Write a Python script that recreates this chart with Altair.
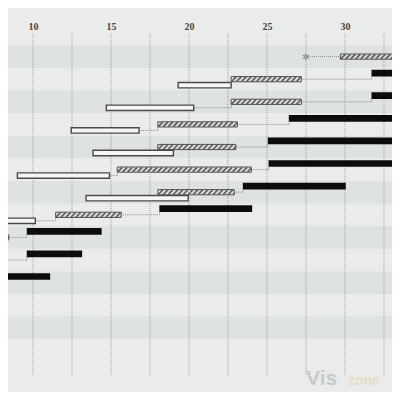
import altair as alt
import pandas as pd

# ---------------- data ----------------
rows = list(range(11))
white_start = [None, 19.3, 14.7, 12.45, 13.85, 9.0, 13.4, 6.5, None, None, None]
white_end = [None, 22.7, 20.3, 16.8, 19.0, 14.9, 19.95, 10.15, None, None, None]
hatch_start = [29.7, 22.7, 22.7, 18.0, 18.0, 15.4, 18.0, 11.45, 6.0, 6.0, 5.5]
hatch_end = [35.0, 27.2, 27.2, 23.1, 23.0, 24.0, 22.9, 15.65, 8.45, 8.35, 7.6]
black_start = [None, 31.7, 31.7, 26.4, 25.05, 25.1, 23.45, 18.1, 9.6, 9.6, 8.2]
black_end = [None, 35.0, 35.0, 35.0, 35.0, 33.15, 30.05, 24.05, 14.4, 13.15, 11.1]
milestone_rows = [0]
milestone_x = [27.5]
band_rows = [0, 2, 4, 6, 8, 10, 12]
grid_values = [7.5, 10, 12.5, 15, 17.5, 20, 22.5, 25, 27.5, 30, 32.5]
label_values = [10, 15, 20, 25, 30]
watermark = ["Vis", "zone"]

# ---------------- tables built from the arrays ----------------
recs = []
for i, r in enumerate(rows):
    for phase, s, e in (("white", white_start[i], white_end[i]),
                        ("hatched", hatch_start[i], hatch_end[i]),
                        ("black", black_start[i], black_end[i])):
        if s is not None:
            recs.append({"row": r, "phase": phase, "start": s, "end": e})
bars = pd.DataFrame(recs)

conn = []
for i, r in enumerate(rows):
    if white_end[i] is not None and hatch_start[i] >= white_end[i]:
        conn.append({"row": r, "src": "white", "dst": "hatched",
                     "x0": white_end[i], "x1": hatch_start[i]})
    if black_start[i] is not None:
        conn.append({"row": r, "src": "hatched", "dst": "black",
                     "x0": hatch_end[i], "x1": black_start[i]})
for r, m in zip(milestone_rows, milestone_x):
    conn.append({"row": r, "src": "hatched", "dst": "hatched",
                 "x0": m, "x1": hatch_start[rows.index(r)]})
conns = pd.DataFrame(conn)

miles = pd.DataFrame({"row": milestone_rows, "x": milestone_x, "t": ["✲"] * len(milestone_x)})
bands = pd.DataFrame({"row": band_rows})
grid = pd.DataFrame({"v": grid_values})

# ---------------- scales / styling ----------------
W, H = 384, 342
ROW_PX = 22.6
xscale = alt.Scale(domain=[8.397, 33.013], nice=False, zero=False)
yscale = alt.Scale(domain=[0, H / ROW_PX], nice=False, zero=False, reverse=True)
xaxis = alt.Axis(orient="top", values=label_values, grid=False, ticks=False, domain=False,
                 labelFont="Liberation Serif", labelFontSize=10, labelFontWeight="bold",
                 labelColor="#444444", labelPadding=3, title=None)


def X(f):
    return alt.X(f, type="quantitative", scale=xscale, axis=xaxis, title=None)


def Y(f):
    return alt.Y(f, type="quantitative", scale=yscale, axis=None, title=None)


def off(f):
    return f"(datum.{f} == 'black' ? -0.27 : datum.{f} == 'white' ? 0.265 : 0)"


def half(f):
    return f"(datum.{f} == 'black' ? 0.148 : datum.{f} == 'white' ? 0.12 : 0.115)"


DX = 0.29
PERIOD = 0.32
INNER = 0.1

band_layer = alt.Chart(bands).mark_rect(color="#dee3e2").transform_calculate(
    y="datum.row + 0.5", y2="datum.row + 1.5"
).encode(x=alt.value(0), x2=alt.value(W), y=Y("y"), y2=alt.Y2("y2"))

grid_layer = alt.Chart(grid).mark_rule(color="#9c9e9e", strokeWidth=1, strokeDash=[1, 1]).encode(
    x=X("v")
)

conn_base = alt.Chart(conns).transform_calculate(
    yf=f"datum.row + 1 + {off('src')}",
    yt=f"datum.row + 1 + {off('dst')} + {half('dst')}",
)
conn_h = conn_base.mark_rule(color="#8a8c8c", strokeWidth=1, strokeDash=[1, 1], clip=True).encode(
    x=X("x0"), x2=alt.X2("x1"), y=Y("yf")
)
conn_v = conn_base.mark_rule(color="#8a8c8c", strokeWidth=1, strokeDash=[1, 1], clip=True).encode(
    x=X("x1"), y=Y("yf"), y2=alt.Y2("yt")
)

bar_base = alt.Chart(bars).transform_calculate(
    y=f"datum.row + 1 + {off('phase')} - {half('phase')}",
    y2=f"datum.row + 1 + {off('phase')} + {half('phase')}",
)

white_layer = bar_base.transform_filter("datum.phase == 'white'").mark_rect(
    fill="#f4f5f4", stroke="#4a4a4a", strokeWidth=1.4, clip=True
).encode(x=X("start"), x2=alt.X2("end"), y=Y("y"), y2=alt.Y2("y2"))

hatch_fill = bar_base.transform_filter("datum.phase == 'hatched'").mark_rect(
    fill="#dcdcdc", clip=True
).encode(x=X("start"), x2=alt.X2("end"), y=Y("y"), y2=alt.Y2("y2"))

hatch_lines = alt.Chart(bars).transform_filter("datum.phase == 'hatched'").transform_calculate(
    top=f"datum.row + 1 - {INNER}",
    bot=f"datum.row + 1 + {INNER}",
    h=f"sequence(datum.start - {DX}, datum.end, {PERIOD})",
).transform_flatten(["h"]).transform_calculate(
    hx1="max(datum.h, datum.start)",
    hx2=f"min(datum.h + {DX}, datum.end)",
).transform_calculate(
    hy1=f"datum.bot - (datum.hx1 - datum.h) / {DX} * (datum.bot - datum.top)",
    hy2=f"datum.bot - (datum.hx2 - datum.h) / {DX} * (datum.bot - datum.top)",
).transform_filter("datum.hx2 > datum.hx1").mark_rule(
    color="#5e5e5e", strokeWidth=1.6, clip=True
).encode(x=X("hx1"), x2=alt.X2("hx2"), y=Y("hy1"), y2=alt.Y2("hy2"))

hatch_border = bar_base.transform_filter("datum.phase == 'hatched'").mark_rect(
    fillOpacity=0, stroke="#505050", strokeWidth=1, clip=True
).encode(x=X("start"), x2=alt.X2("end"), y=Y("y"), y2=alt.Y2("y2"))

black_layer = bar_base.transform_filter("datum.phase == 'black'").mark_rect(
    fill="#0c0c0c", clip=True
).encode(x=X("start"), x2=alt.X2("end"), y=Y("y"), y2=alt.Y2("y2"))

star_layer = alt.Chart(miles).transform_calculate(yc="datum.row + 1").mark_text(
    font="DejaVu Sans", fontSize=9, color="#7a7c7c", align="center", baseline="middle"
).encode(x=X("x"), y=Y("yc"), text="t:N")

wm1 = alt.Chart(pd.DataFrame({"t": [watermark[0]]})).mark_text(
    font="Liberation Sans", fontSize=21, fontWeight="bold", color="#c6cbca",
    align="left", baseline="alphabetic"
).encode(x=alt.value(298), y=alt.value(351), text="t:N")
wm2 = alt.Chart(pd.DataFrame({"t": [watermark[1]]})).mark_text(
    font="Liberation Sans", fontSize=14, fontWeight="bold", color="#e6dcc3",
    align="left", baseline="alphabetic"
).encode(x=alt.value(340), y=alt.value(351), text="t:N")

chart = alt.layer(
    band_layer, grid_layer, conn_h, conn_v, white_layer, hatch_fill, hatch_lines,
    hatch_border, black_layer, star_layer, wm1, wm2
).properties(
    width=W, height=H,
    autosize=alt.AutoSizeParams(type="none"),
    padding={"left": 0, "top": 26, "right": 0, "bottom": 16},
).configure(background="#e9ecea").configure_view(strokeWidth=0)

chart.save("out.html", embed_options={"renderer": "svg", "actions": False})
